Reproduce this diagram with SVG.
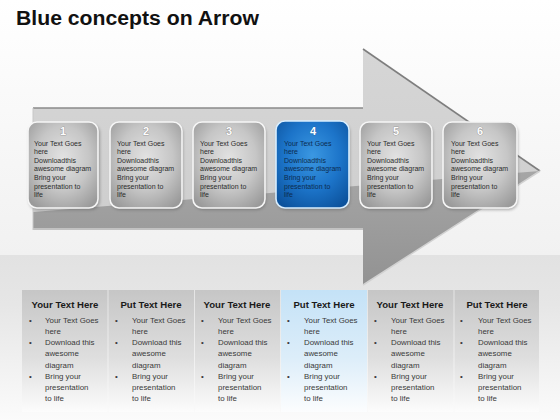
<svg xmlns="http://www.w3.org/2000/svg" width="560" height="420" viewBox="0 0 560 420">
<defs>
<style>
.title{font-family:"Liberation Sans",Arial,sans-serif;font-weight:bold;font-size:20px;fill:#111}
.num{font-family:"Liberation Sans",Arial,sans-serif;font-weight:bold;font-size:11px;fill:#fdfdfd;stroke:#7a7a7a;stroke-width:0.6;paint-order:stroke;text-anchor:middle}
.ct{font-family:"Liberation Sans",Arial,sans-serif;font-size:7px;fill:#2c2c2c}
.ctb{font-family:"Liberation Sans",Arial,sans-serif;font-size:7px;fill:#0c2c50}
.hd{font-family:"Liberation Sans",Arial,sans-serif;font-weight:bold;font-size:9.6px;fill:#1a1a1a;text-anchor:middle}
.bt{font-family:"Liberation Sans",Arial,sans-serif;font-size:7.9px;fill:#3a3a3a}
.card{fill:url(#gcard);stroke:#f6f6f6;stroke-width:1.6}
.cardb{fill:url(#gblue);stroke:#d8eeff;stroke-width:1.6}
.shadow{fill:#555;opacity:0.45;filter:url(#blur)}
.col{fill:url(#gcol)}
.colb{fill:url(#gcolb)}
</style>
<filter id="blur" x="-20%" y="-20%" width="140%" height="140%"><feGaussianBlur stdDeviation="1.5"/></filter>
<linearGradient id="gbg" x1="0" y1="0" x2="0" y2="1">
<stop offset="0" stop-color="#ffffff"/><stop offset="1" stop-color="#f1f1f1"/>
</linearGradient>
<linearGradient id="gbg2" x1="0" y1="0" x2="0" y2="1">
<stop offset="0" stop-color="#e2e2e2"/><stop offset="0.3" stop-color="#e6e6e6"/><stop offset="1" stop-color="#fbfbfb"/>
</linearGradient>
<linearGradient id="glight" x1="0" y1="0" x2="0" y2="1">
<stop offset="0" stop-color="#d6d6d6"/><stop offset="1" stop-color="#cbcbcb"/>
</linearGradient>
<linearGradient id="gdark" x1="0" y1="0" x2="0" y2="1">
<stop offset="0" stop-color="#a6a6a6"/><stop offset="1" stop-color="#929292"/>
</linearGradient>
<radialGradient id="gcard" cx="50%" cy="42%" r="68%">
<stop offset="0" stop-color="#e2e2e2"/><stop offset="0.55" stop-color="#c6c6c6"/><stop offset="1" stop-color="#9a9a9a"/>
</radialGradient>
<radialGradient id="gblue" cx="50%" cy="40%" r="70%">
<stop offset="0" stop-color="#3b98e2"/><stop offset="0.55" stop-color="#1c74c9"/><stop offset="1" stop-color="#0c529c"/>
</radialGradient>
<linearGradient id="gcol" x1="0" y1="0" x2="0" y2="1">
<stop offset="0" stop-color="#c6c6c6"/><stop offset="0.55" stop-color="#dedede"/><stop offset="1" stop-color="#fcfcfc"/>
</linearGradient>
<linearGradient id="gcolb" x1="0" y1="0" x2="0" y2="1">
<stop offset="0" stop-color="#c4e2f7"/><stop offset="0.55" stop-color="#dcedf9"/><stop offset="1" stop-color="#fcfdfe"/>
</linearGradient>
</defs>

<rect x="0" y="0" width="560" height="255" fill="url(#gbg)"/>
<rect x="0" y="255" width="560" height="165" fill="url(#gbg2)"/>

<text class="title" x="16" y="25" textLength="243" lengthAdjust="spacingAndGlyphs">Blue concepts on Arrow</text>

<g id="arrow">
<path d="M33 108 H363 V49 L540 171 L363 285 V230 H33 Z" fill="url(#glight)"/>
<path d="M33 212 L540 171 L363 285 V230 H33 Z" fill="url(#gdark)"/>
<path d="M33 108 H363" stroke="#8a8a8a" stroke-width="1.5" fill="none"/>
<path d="M363 49 L540 171" stroke="#7e7e7e" stroke-width="1.6" fill="none"/>
<path d="M540 171 L363 285" stroke="#d2d2d2" stroke-width="1.5" fill="none"/>
<path d="M33 229 H363" stroke="#cfcfcf" stroke-width="1.5" fill="none"/>
<path d="M33 108 V230" stroke="#c8c8c8" stroke-width="1" fill="none"/>
</g>

<g id="card1">
<rect class="shadow" x="29" y="124" width="71" height="86" rx="9"/>
<rect class="card" x="28" y="122" width="70" height="86" rx="9"/>
<text class="num" x="63" y="135">1</text>
<text class="ct"><tspan x="34" y="145.5">Your Text Goes</tspan><tspan x="34" y="154.1">here</tspan><tspan x="34" y="162.7">Downloadthis</tspan><tspan x="34" y="171.3">awesome diagram</tspan><tspan x="34" y="179.9">Bring your</tspan><tspan x="34" y="188.5">presentation to</tspan><tspan x="34" y="197.1">life</tspan></text>
</g>
<g id="card2">
<rect class="shadow" x="111" y="124" width="72" height="86" rx="9"/>
<rect class="card" x="110" y="122" width="72" height="86" rx="9"/>
<text class="num" x="146" y="135">2</text>
<text class="ct"><tspan x="117" y="145.5">Your Text Goes</tspan><tspan x="117" y="154.1">here</tspan><tspan x="117" y="162.7">Downloadthis</tspan><tspan x="117" y="171.3">awesome diagram</tspan><tspan x="117" y="179.9">Bring your</tspan><tspan x="117" y="188.5">presentation to</tspan><tspan x="117" y="197.1">life</tspan></text>
</g>
<g id="card3">
<rect class="shadow" x="194" y="124" width="72" height="86" rx="9"/>
<rect class="card" x="193" y="122" width="72" height="86" rx="9"/>
<text class="num" x="229" y="135">3</text>
<text class="ct"><tspan x="200" y="145.5">Your Text Goes</tspan><tspan x="200" y="154.1">here</tspan><tspan x="200" y="162.7">Downloadthis</tspan><tspan x="200" y="171.3">awesome diagram</tspan><tspan x="200" y="179.9">Bring your</tspan><tspan x="200" y="188.5">presentation to</tspan><tspan x="200" y="197.1">life</tspan></text>
</g>
<g id="card4">
<rect class="shadow" x="277" y="123" width="73" height="87" rx="9"/>
<rect class="cardb" x="276" y="121" width="73" height="87" rx="9"/>
<text class="num" x="313" y="135" style="stroke:#1d5f9f">4</text>
<text class="ctb"><tspan x="284" y="145.5">Your Text Goes</tspan><tspan x="284" y="154.1">here</tspan><tspan x="284" y="162.7">Downloadthis</tspan><tspan x="284" y="171.3">awesome diagram</tspan><tspan x="284" y="179.9">Bring your</tspan><tspan x="284" y="188.5">presentation to</tspan><tspan x="284" y="197.1">life</tspan></text>
</g>
<g id="card5">
<rect class="shadow" x="361" y="124" width="72" height="86" rx="9"/>
<rect class="card" x="360" y="122" width="72" height="86" rx="9"/>
<text class="num" x="396" y="135">5</text>
<text class="ct"><tspan x="367" y="145.5">Your Text Goes</tspan><tspan x="367" y="154.1">here</tspan><tspan x="367" y="162.7">Downloadthis</tspan><tspan x="367" y="171.3">awesome diagram</tspan><tspan x="367" y="179.9">Bring your</tspan><tspan x="367" y="188.5">presentation to</tspan><tspan x="367" y="197.1">life</tspan></text>
</g>
<g id="card6">
<rect class="shadow" x="444" y="124" width="74" height="86" rx="9"/>
<rect class="card" x="443" y="122" width="74" height="86" rx="9"/>
<text class="num" x="480" y="135">6</text>
<text class="ct"><tspan x="451" y="145.5">Your Text Goes</tspan><tspan x="451" y="154.1">here</tspan><tspan x="451" y="162.7">Downloadthis</tspan><tspan x="451" y="171.3">awesome diagram</tspan><tspan x="451" y="179.9">Bring your</tspan><tspan x="451" y="188.5">presentation to</tspan><tspan x="451" y="197.1">life</tspan></text>
</g>

<g id="col1">
<rect class="col" x="22" y="290" width="85.5" height="122"/>
<text class="hd" x="65" y="307.5">Your Text Here</text>
<text class="bt"><tspan x="29" y="322.5">•</tspan><tspan x="29" y="345">•</tspan><tspan x="29" y="378.7">•</tspan></text>
<text class="bt"><tspan x="45" y="322.5">Your Text Goes</tspan><tspan x="45" y="333.7">here</tspan><tspan x="45" y="345">Download this</tspan><tspan x="45" y="356.2">awesome</tspan><tspan x="45" y="367.5">diagram</tspan><tspan x="45" y="378.7">Bring your</tspan><tspan x="45" y="390">presentation</tspan><tspan x="45" y="401.2">to life</tspan></text>
</g>
<g id="col2">
<rect class="col" x="108.5" y="290" width="85.5" height="122"/>
<text class="hd" x="151" y="307.5">Put Text Here</text>
<text class="bt"><tspan x="115" y="322.5">•</tspan><tspan x="115" y="345">•</tspan><tspan x="115" y="378.7">•</tspan></text>
<text class="bt"><tspan x="132" y="322.5">Your Text Goes</tspan><tspan x="132" y="333.7">here</tspan><tspan x="132" y="345">Download this</tspan><tspan x="132" y="356.2">awesome</tspan><tspan x="132" y="367.5">diagram</tspan><tspan x="132" y="378.7">Bring your</tspan><tspan x="132" y="390">presentation</tspan><tspan x="132" y="401.2">to life</tspan></text>
</g>
<g id="col3">
<rect class="col" x="195" y="290" width="85" height="122"/>
<text class="hd" x="237" y="307.5">Your Text Here</text>
<text class="bt"><tspan x="201" y="322.5">•</tspan><tspan x="201" y="345">•</tspan><tspan x="201" y="378.7">•</tspan></text>
<text class="bt"><tspan x="218" y="322.5">Your Text Goes</tspan><tspan x="218" y="333.7">here</tspan><tspan x="218" y="345">Download this</tspan><tspan x="218" y="356.2">awesome</tspan><tspan x="218" y="367.5">diagram</tspan><tspan x="218" y="378.7">Bring your</tspan><tspan x="218" y="390">presentation</tspan><tspan x="218" y="401.2">to life</tspan></text>
</g>
<g id="col4">
<rect class="colb" x="281" y="290" width="86" height="122"/>
<text class="hd" x="324" y="307.5">Put Text Here</text>
<text class="bt"><tspan x="287" y="322.5">•</tspan><tspan x="287" y="345">•</tspan><tspan x="287" y="378.7">•</tspan></text>
<text class="bt"><tspan x="304" y="322.5">Your Text Goes</tspan><tspan x="304" y="333.7">here</tspan><tspan x="304" y="345">Download this</tspan><tspan x="304" y="356.2">awesome</tspan><tspan x="304" y="367.5">diagram</tspan><tspan x="304" y="378.7">Bring your</tspan><tspan x="304" y="390">presentation</tspan><tspan x="304" y="401.2">to life</tspan></text>
</g>
<g id="col5">
<rect class="col" x="368" y="290" width="85.5" height="122"/>
<text class="hd" x="410" y="307.5">Your Text Here</text>
<text class="bt"><tspan x="374" y="322.5">•</tspan><tspan x="374" y="345">•</tspan><tspan x="374" y="378.7">•</tspan></text>
<text class="bt"><tspan x="391" y="322.5">Your Text Goes</tspan><tspan x="391" y="333.7">here</tspan><tspan x="391" y="345">Download this</tspan><tspan x="391" y="356.2">awesome</tspan><tspan x="391" y="367.5">diagram</tspan><tspan x="391" y="378.7">Bring your</tspan><tspan x="391" y="390">presentation</tspan><tspan x="391" y="401.2">to life</tspan></text>
</g>
<g id="col6">
<rect class="col" x="454.5" y="290" width="84.5" height="122"/>
<text class="hd" x="497" y="307.5">Put Text Here</text>
<text class="bt"><tspan x="460" y="322.5">•</tspan><tspan x="460" y="345">•</tspan><tspan x="460" y="378.7">•</tspan></text>
<text class="bt"><tspan x="478" y="322.5">Your Text Goes</tspan><tspan x="478" y="333.7">here</tspan><tspan x="478" y="345">Download this</tspan><tspan x="478" y="356.2">awesome</tspan><tspan x="478" y="367.5">diagram</tspan><tspan x="478" y="378.7">Bring your</tspan><tspan x="478" y="390">presentation</tspan><tspan x="478" y="401.2">to life</tspan></text>
</g>
</svg>
